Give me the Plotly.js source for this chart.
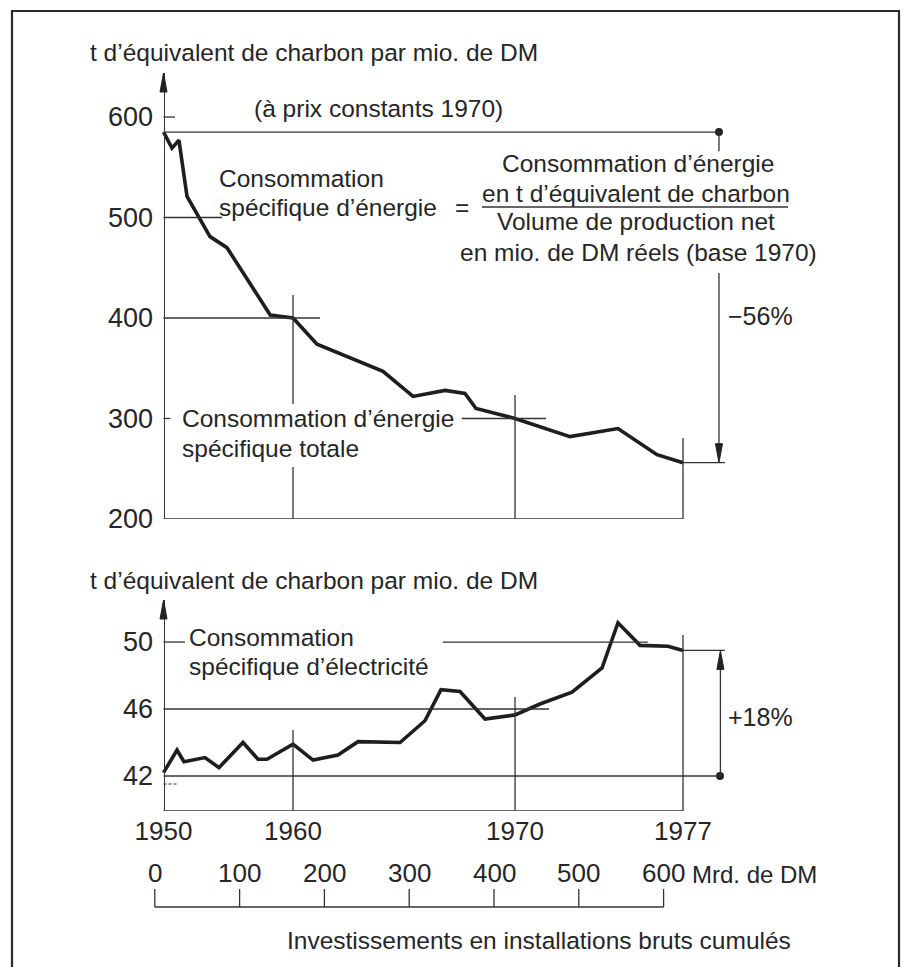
<!DOCTYPE html>
<html>
<head>
<meta charset="utf-8">
<script src="https://cdn.plot.ly/plotly-3.0.1.min.js"></script>
<style>html,body{margin:0;padding:0;background:#fff;}#chart{width:909px;height:967px;}</style>
</head>
<body>
<div id="chart"></div>
<script>
// ---------- DATA ----------
// x = cumulative gross investment in installations (Mrd. DM)
const energyInvest = [10.3, 20.3, 28.5, 38.0, 65.1, 85.1, 136.1, 163.0, 191.3, 269.1, 304.5, 342.2, 365.8, 378.8, 424.8, 489.6, 546.2, 592.2, 622.9];
const energyValue  = [585, 569, 577, 521, 481, 470, 403, 400, 374, 347, 322, 328, 325, 310, 300, 282, 290, 264, 256];

const electInvest = [10.3, 26.2, 34.4, 59.2, 75.7, 104.0, 121.7, 132.3, 163.0, 186.6, 216.0, 239.6, 289.2, 318.6, 337.5, 359.9, 389.4, 424.8, 454.2, 492.0, 527.4, 546.2, 572.2, 605.2, 622.9];
const electValue  = [42.2, 43.55, 42.85, 43.1, 42.5, 44.0, 43.0, 43.0, 43.9, 42.95, 43.25, 44.05, 44.0, 45.3, 47.15, 47.05, 45.4, 45.65, 46.3, 47.0, 48.45, 51.15, 49.8, 49.75, 49.5];

const yearLabels = ['1950', '1960', '1970', '1977'];
const yearInvest = [10.3, 163.0, 424.8, 622.9];

const investTicks = [0, 100, 200, 300, 400, 500, 600];
const energyTicks = [200, 300, 400, 500, 600];
const electTicks  = [42, 46, 50];

const energyStart = 585, energyEnd = 256;   // -56 %
const electStart = 42, electEnd = 49.5;     // +18 %

// ---------- LAYOUT HELPERS ----------
const W = 909, H = 967;
const fx = p => p / W;
const fy = p => 1 - p / H;
const FONT = 'Liberation Sans, Arial, Helvetica, sans-serif';
const INK = '#262626';
const TXT = 24.5;
const thin = {color: '#333', width: 1.3};

const xr = [-182.55, 889.4];          // investment units over the full width
const xPos = v => (v - xr[0]) / (xr[1] - xr[0]);

const shapes = [];
function seg(yref, x0, y0, x1, y1, extra) {
  shapes.push(Object.assign({type: 'line', xref: 'x', yref: yref, x0: x0, y0: y0, x1: x1, y1: y1, line: thin}, extra || {}));
}
function head(yref, x, y, dir) {
  const p = dir > 0 ? 'M0,0 L-3.5,-19 L3.5,-19 Z' : 'M0,0 L-3.5,19 L3.5,19 Z';
  shapes.push({type: 'path', xref: 'x', yref: yref, xsizemode: 'pixel', ysizemode: 'pixel',
               xanchor: x, yanchor: y, path: p, fillcolor: '#222', line: {color: '#222', width: 1}});
}

const x1950 = yearInvest[0], x1960 = yearInvest[1], x1970 = yearInvest[2], x1977 = yearInvest[3];
const yTopRange = [200, 643.8];
const yBotRange = [39.91, 52.51];

// ---- top panel decorations ----
seg('y', x1950, 200, x1977, 200, {line: {color: '#333', width: 1.5}});
head('y', x1950, yTopRange[1], 1);
seg('y', x1950, 600, 23.8, 600);
seg('y', x1950, 500, 79.2, 500);
seg('y', x1950, 400, 194.8, 400);
seg('y', x1950, 300, 18.4, 300);
seg('y', 362, 300, 461.3, 300);
seg('y', x1960, 422.9, x1960, 314.4);
seg('y', x1960, 251.7, x1960, 200);
seg('y', x1970, 323.4, x1970, 200);
seg('y', x1977, 280.6, x1977, 200);
seg('y', x1950, energyStart, 665.3, energyStart);
seg('y', 665.3, energyStart, 665.3, 566);
seg('y', 665.3, 444.8, 665.3, energyEnd + 8);
head('y', 665.3, energyEnd, -1);
seg('y', x1977, energyEnd, 672.3, energyEnd);

// ---- lower panel decorations ----
seg('y2', x1950, yBotRange[0], x1977, yBotRange[0], {line: {color: '#333', width: 1.5}});
head('y2', x1950, yBotRange[1], 1);
seg('y2', x1950, 50, 35.6, 50);
seg('y2', 339.7, 50, 581.4, 50);
seg('y2', x1950, 46, 464.9, 46);
seg('y2', x1950, electStart, 666.5, electStart);
seg('y2', x1950, 41.52, 27.2, 41.52, {line: {color: '#333', width: 1.1, dash: '3px,2px'}});
seg('y2', x1977, electEnd, 672.3, electEnd);
seg('y2', 667, electStart, 667, electEnd - 1);
head('y2', 667, electEnd, 1);
seg('y2', x1960, 44.75, x1960, yBotRange[0]);
seg('y2', x1970, 46.72, x1970, yBotRange[0]);
seg('y2', x1977, 50.42, x1977, yBotRange[0]);

// ---- investment bracket ----
shapes.push({type: 'line', xref: 'x', yref: 'paper', x0: investTicks[0], x1: investTicks[investTicks.length - 1],
             y0: fy(907), y1: fy(907), line: thin});
investTicks.forEach(v => shapes.push({type: 'line', xref: 'x', yref: 'paper', x0: v, x1: v, y0: fy(907), y1: fy(889), line: thin}));

// ---- frame ----
shapes.push({type: 'rect', xref: 'paper', yref: 'paper', x0: fx(12), x1: fx(899), y0: fy(1010), y1: fy(11),
             line: {color: '#2a2a2a', width: 2.2}});

// fraction bar
shapes.push({type: 'line', xref: 'paper', yref: 'paper', x0: fx(482), x1: fx(788), y0: fy(207), y1: fy(207), line: thin});

// ---------- ANNOTATIONS ----------
const ann = [];
function txt(t, px, py, anchor, size) {
  ann.push({text: t, xref: 'paper', yref: 'paper', x: fx(px), y: fy(py), xanchor: anchor || 'left', yanchor: 'middle',
            showarrow: false, font: {family: FONT, size: size || TXT, color: INK}});
}
txt('t d’équivalent de charbon par mio. de DM', 88, 53);
txt('(à prix constants 1970)', 252, 108);
txt('Consommation', 217, 178);
txt('spécifique d’énergie', 217, 207);
txt('=', 462, 207, 'center');
txt('Consommation d’énergie', 638, 163, 'center');
txt('en t d’équivalent de charbon', 636, 193, 'center');
txt('Volume de production net', 636, 222, 'center');
txt('en mio. de DM réels (base 1970)', 638, 252, 'center');
txt('−56%', 726, 316, 'left', 25);
txt('Consommation d’énergie', 180, 418);
txt('spécifique totale', 180, 449);
txt('t d’équivalent de charbon par mio. de DM', 88, 580);
txt('Consommation', 187, 637);
txt('spécifique d’électricité', 187, 666);
txt('+18%', 726, 717, 'left', 25);
txt('Investissements en installations bruts cumulés', 285, 940, 'left', 24.5);
investTicks.forEach(v => ann.push({text: String(v), xref: 'x', yref: 'paper', x: v, y: fy(873), xanchor: 'center',
                                    yanchor: 'middle', showarrow: false, font: {family: FONT, size: 26, color: INK}}));
txt('Mrd. de DM', 690, 874, 'left', 24);

// ---------- TRACES ----------
const lineStyle = {color: '#1e1e1e', width: 3.6, shape: 'linear'};
const traces = [
  {type: 'scatter', mode: 'lines', x: energyInvest, y: energyValue, xaxis: 'x', yaxis: 'y', line: lineStyle, hoverinfo: 'skip'},
  {type: 'scatter', mode: 'lines', x: electInvest, y: electValue, xaxis: 'x', yaxis: 'y2', line: lineStyle, hoverinfo: 'skip'},
  {type: 'scatter', mode: 'markers', x: [665.3], y: [energyStart], xaxis: 'x', yaxis: 'y', marker: {color: '#222', size: 8}, hoverinfo: 'skip', cliponaxis: false},
  {type: 'scatter', mode: 'markers', x: [666.5], y: [electStart], xaxis: 'x', yaxis: 'y2', marker: {color: '#222', size: 8}, hoverinfo: 'skip', cliponaxis: false}
];

const axisFont = {family: FONT, size: 27, color: INK};
const layout = {
  width: W, height: H,
  margin: {l: 0, r: 0, t: 0, b: 0},
  paper_bgcolor: '#ffffff', plot_bgcolor: 'rgba(0,0,0,0)',
  showlegend: false,
  xaxis: {domain: [0, 1], range: xr, anchor: 'y2', showline: false, showgrid: false, zeroline: false, ticks: '',
          tickmode: 'array', tickvals: yearInvest, ticktext: yearLabels, tickfont: {family: FONT, size: 26, color: INK},
          ticklabelstandoff: 2, fixedrange: true},
  yaxis: {domain: [fy(519), fy(73)], range: yTopRange, anchor: 'free', position: xPos(x1950), showline: true,
          linecolor: '#333', linewidth: 1.5, showgrid: false, zeroline: false, ticks: '', tickmode: 'array',
          tickvals: energyTicks, tickfont: axisFont, ticklabelstandoff: 5},
  yaxis2: {domain: [fy(811), fy(600)], range: yBotRange, anchor: 'free', position: xPos(x1950), showline: true,
          linecolor: '#333', linewidth: 1.5, showgrid: false, zeroline: false, ticks: '', tickmode: 'array',
          tickvals: electTicks, tickfont: axisFont, ticklabelstandoff: 5},
  shapes: shapes,
  annotations: ann
};

Plotly.newPlot('chart', traces, layout, {staticPlot: true, displayModeBar: false});
</script>
</body>
</html>
